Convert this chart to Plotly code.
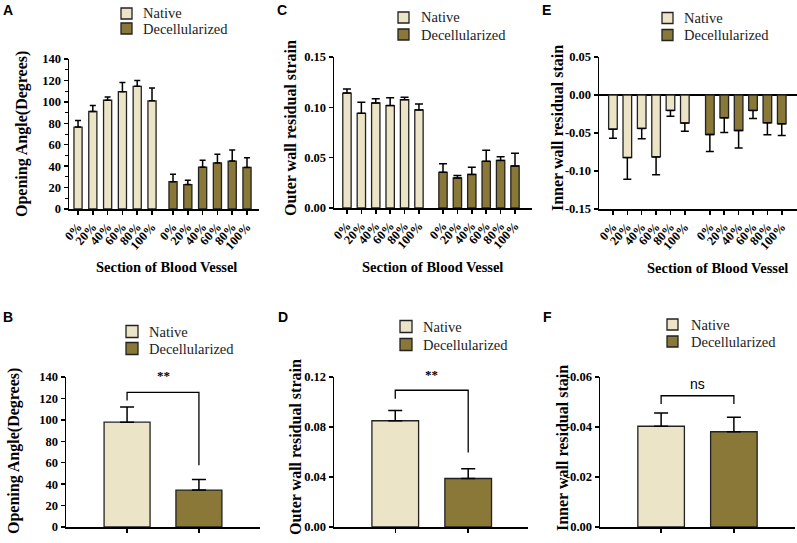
import plotly.graph_objects as go

W, H = 797, 543

# ---------------- data ----------------
sections = ["0%", "20%", "40%", "60%", "80%", "100%"]
groups = ["Native", "Decellularized"]

# Panel A: opening angle (degrees) per section
angle_native = [76.5, 91, 101.5, 109.5, 114.5, 101]
angle_native_err = [6, 5.5, 3, 8.5, 5.5, 12]
angle_decel = [25.5, 22.8, 39, 43, 44.7, 38.8]
angle_decel_err = [7, 4, 6.5, 8, 10.3, 9]

# Panel C: outer wall residual strain per section
outer_native = [0.1142, 0.094, 0.1043, 0.1017, 0.1076, 0.0974]
outer_native_err = [0.004, 0.011, 0.0043, 0.0079, 0.0024, 0.0059]
outer_decel = [0.0354, 0.0298, 0.0334, 0.0464, 0.0473, 0.0417]
outer_decel_err = [0.0086, 0.0026, 0.007, 0.0109, 0.0037, 0.0126]

# Panel E: inner wall residual stain per section
inner_native = [-0.045, -0.0824, -0.044, -0.0815, -0.0203, -0.037]
inner_native_err = [0.012, 0.0286, 0.0137, 0.0235, 0.0077, 0.0106]
inner_decel = [-0.052, -0.030, -0.0467, -0.0203, -0.0366, -0.0379]
inner_decel_err = [0.0224, 0.0193, 0.0229, 0.0105, 0.0158, 0.0154]

# Panels B, D, F: pooled means
angle_mean = [97.8, 34.5]
angle_mean_err = [14.2, 9.9]
outer_mean = [0.085, 0.0388]
outer_mean_err = [0.0082, 0.0077]
inner_mean = [-0.0403, -0.0381]
inner_mean_err = [0.0053, 0.0058]

sig_B = "**"
sig_D = "**"
sig_F = "ns"

# ---------------- styles ----------------
C_NAT = "#ECE4C6"
C_DEC = "#8A7838"
EDGE = "#222222"
SERIF = "'Liberation Serif', 'Times New Roman', Tinos, serif"
SANS = "'Liberation Sans', Arial, sans-serif"


def xd(x0, x1):
    return [x0 / W, x1 / W]


def yd(ytop, ybot):
    return [1 - ybot / H, 1 - ytop / H]


fig = go.Figure()


def add_section_bars(ax, nat, nat_err, dec, dec_err, gap, width, capw, negative=False):
    xn = list(range(len(sections)))
    xdc = [gap + i for i in range(len(sections))]
    for xs, vals, errs, col in [(xn, nat, nat_err, C_NAT), (xdc, dec, dec_err, C_DEC)]:
        if negative:
            ey = dict(type="data", symmetric=False, array=[0] * len(errs), arrayminus=errs,
                      color="black", thickness=1.5, width=capw)
        else:
            ey = dict(type="data", symmetric=False, array=errs, arrayminus=[0] * len(errs),
                      color="black", thickness=1.5, width=capw)
        fig.add_trace(go.Bar(x=xs, y=vals, width=width, marker=dict(color=col, line=dict(color=EDGE, width=1.3)),
                             error_y=ey, xaxis="x" + ax, yaxis="y" + ax, showlegend=False))
    return xn + xdc


def add_mean_bars(ax, vals, errs, negative=False):
    for i, col in enumerate([C_NAT, C_DEC]):
        if negative:
            ey = dict(type="data", symmetric=False, array=[0], arrayminus=[errs[i]],
                      color="black", thickness=1.5, width=7)
        else:
            ey = dict(type="data", symmetric=False, array=[errs[i]], arrayminus=[0],
                      color="black", thickness=1.5, width=7)
        fig.add_trace(go.Bar(x=[i], y=[vals[i]], width=0.64,
                             marker=dict(color=col, line=dict(color=EDGE, width=1.3)),
                             error_y=ey, xaxis="x" + ax, yaxis="y" + ax, showlegend=False))


posA = add_section_bars("", angle_native, angle_native_err, angle_decel, angle_decel_err, 6.42, 0.55, 3)
posC = add_section_bars("2", outer_native, outer_native_err, outer_decel, outer_decel_err, 6.67, 0.58, 4)
posE = add_section_bars("3", inner_native, inner_native_err, inner_decel, inner_decel_err, 6.74, 0.6, 4, negative=True)
add_mean_bars("4", angle_mean, angle_mean_err)
add_mean_bars("5", outer_mean, outer_mean_err)
add_mean_bars("6", inner_mean, inner_mean_err, negative=True)

for tr in fig.data:
    tr.update(cliponaxis=False, hoverinfo="skip")

line_common = dict(showline=True, linecolor="black", linewidth=1.5, ticks="outside", ticklen=4,
                   tickwidth=1.5, tickcolor="black", showgrid=False, zeroline=False, automargin=False)
ytick_font = dict(family=SERIF, size=12.5, color="black", weight="bold")
xtick_font = dict(family=SERIF, size=12.5, color="black", weight="bold")

labels12 = sections + sections

layout_axes = dict(
    xaxis=dict(domain=xd(69, 259), range=[-0.61, 12.23], tickvals=posA, ticktext=labels12,
               tickangle=-48, tickfont=xtick_font, anchor="y", **line_common),
    yaxis=dict(domain=yd(59, 209), range=[0, 140], tickvals=[0, 20, 40, 60, 80, 100, 120, 140],
               tickfont=ytick_font, anchor="x",
               minor=dict(dtick=10, ticklen=2.5, tickwidth=1, tickcolor="black", ticks="outside"),
               **line_common),
    xaxis2=dict(domain=xd(334, 532), range=[-0.9, 12.85], tickvals=posC, ticktext=labels12,
                tickangle=-48, tickfont=xtick_font, anchor="y2", **line_common),
    yaxis2=dict(domain=yd(57, 208), range=[0, 0.15], tickvals=[0, 0.05, 0.10, 0.15],
                ticktext=["0.00", "0.05", "0.10", "0.15"], tickfont=ytick_font, anchor="x2", **line_common),
    xaxis3=dict(domain=xd(599, 797), range=[-0.97, 12.8], tickvals=posE, ticktext=labels12,
                tickangle=-48, tickfont=xtick_font, anchor="y3", **line_common),
    yaxis3=dict(domain=yd(57, 209), range=[-0.15, 0.05], tickvals=[-0.15, -0.10, -0.05, 0, 0.05],
                ticktext=["-0.15", "-0.10", "-0.05", "0.00", "0.05"], tickfont=ytick_font, anchor="x3",
                **{k: v for k, v in line_common.items() if k != "zeroline"},
                zeroline=True, zerolinecolor="black", zerolinewidth=1.5),
    xaxis4=dict(domain=xd(66, 260), range=[-0.85, 1.85], tickvals=[0, 1], ticktext=["", ""],
                anchor="y4", **line_common),
    yaxis4=dict(domain=yd(377, 527), range=[0, 140], tickvals=[0, 20, 40, 60, 80, 100, 120, 140],
                tickfont=ytick_font, anchor="x4", **line_common),
    xaxis5=dict(domain=xd(334, 528), range=[-0.84, 1.82], tickvals=[0, 1], ticktext=["", ""],
                anchor="y5", **line_common),
    yaxis5=dict(domain=yd(377, 527), range=[0, 0.12], tickvals=[0, 0.04, 0.08, 0.12],
                ticktext=["0.00", "0.04", "0.08", "0.12"], tickfont=ytick_font, anchor="x5", **line_common),
    xaxis6=dict(domain=xd(600, 795), range=[-0.84, 1.84], tickvals=[0, 1], ticktext=["", ""],
                anchor="y6", **line_common),
    yaxis6=dict(domain=yd(377, 527), range=[0, -0.06], tickvals=[0, -0.02, -0.04, -0.06],
                ticktext=["0.00", "-0.02", "-0.04", "-0.06"], tickfont=ytick_font, anchor="x6", **line_common),
)

fig.update_layout(
    width=W, height=H, margin=dict(l=0, r=0, t=0, b=0, autoexpand=False),
    paper_bgcolor="white", plot_bgcolor="rgba(0,0,0,0)",
    barmode="overlay", showlegend=False, hovermode=False,
    **layout_axes,
)

shapes = []
annots = []

# y-axis titles (x center px, y center px, text)
ytitles = [
    (22, 134, "Opening Angle(Degrees)"),
    (290, 128, "Outer wall residual strain"),
    (557, 128, "Inner wall residual stain"),
    (14, 451, "Opening Angle(Degrees)"),
    (295, 447, "Outer wall residual strain"),
    (562, 448, "Inner wall residual stain"),
]
for x, y, t in ytitles:
    annots.append(dict(x=x / W, y=1 - y / H, xref="paper", yref="paper", text=t, textangle=-90,
                       showarrow=False, font=dict(family=SERIF, size=16, color="black", weight="bold"),
                       xanchor="center", yanchor="middle"))

# x-axis titles
for x, y in [(166, 267), (432, 267), (717, 268)]:
    annots.append(dict(x=x / W, y=1 - y / H, xref="paper", yref="paper", text="Section of Blood Vessel",
                       showarrow=False, font=dict(family=SERIF, size=14.5, color="black", weight="bold"),
                       xanchor="center", yanchor="middle"))

# panel letters
for x, y, t in [(8, 10, "A"), (282, 10, "C"), (546, 10, "E"), (8, 317, "B"), (283, 317, "D"), (547, 317, "F")]:
    annots.append(dict(x=x / W, y=1 - y / H, xref="paper", yref="paper", text=t, showarrow=False,
                       font=dict(family=SANS, size=14, color="black", weight="bold"),
                       xanchor="center", yanchor="middle"))

# legends: (square left px, square size px, first row center y px, row spacing px, text left px)
legends = [
    (121, 11, 13.5, 15, 141),
    (398, 11, 17.5, 17, 419),
    (662, 11, 18, 17, 682),
    (126, 12, 331.5, 17, 147),
    (400, 12, 326.5, 18, 421),
    (667, 11, 324.5, 17, 689),
]
for sx, sz, cy, dy, tx in legends:
    for i, (g, col) in enumerate(zip(groups, [C_NAT, C_DEC])):
        yc = cy + i * dy
        shapes.append(dict(type="rect", xref="paper", yref="paper",
                           x0=sx / W, x1=(sx + sz) / W, y0=1 - (yc + sz / 2) / H, y1=1 - (yc - sz / 2) / H,
                           fillcolor=col, line=dict(color=EDGE, width=1.3)))
        annots.append(dict(x=tx / W, y=1 - yc / H, xref="paper", yref="paper", text=g, showarrow=False,
                           font=dict(family=SERIF, size=14.5, color="#222222"),
                           xanchor="left", yanchor="middle"))

# significance brackets: (axis suffix, bar height, left leg end, right leg end, label y, label yshift px, label, font)
brackets = [
    ("4", 125.7, 118, 57.7, 140, 2, sig_B, dict(family=SERIF, size=13, color="black", weight="bold")),
    ("5", 0.1094, 0.1027, 0.0595, 0.12, 3, sig_D, dict(family=SERIF, size=13, color="black", weight="bold")),
    ("6", -0.0525, -0.0492, -0.0492, -0.0573, 0, sig_F, dict(family=SANS, size=14, color="black")),
]
for ax, yb, yl, yr, ylab, ysh, lab, fnt in brackets:
    xr, yrf = "x" + ax, "y" + ax
    shapes.append(dict(type="path", xref=xr, yref=yrf,
                       path=f"M 0,{yl} L 0,{yb} L 1,{yb} L 1,{yr}",
                       line=dict(color="black", width=1.3)))
    annots.append(dict(x=0.5, y=ylab, xref=xr, yref=yrf, text=lab, showarrow=False, font=fnt,
                       xanchor="center", yanchor="middle", yshift=ysh))

fig.update_layout(shapes=shapes, annotations=annots)

fig.write_html("out.html", config={"displayModeBar": False, "staticPlot": True},
               post_script="document.body.style.margin='0';document.body.style.padding='0';"
                           "document.body.style.overflow='hidden';")
